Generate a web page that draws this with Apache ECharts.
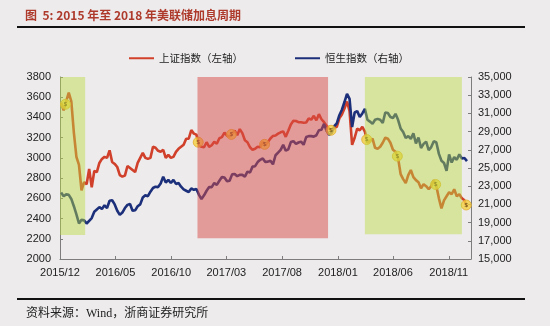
<!DOCTYPE html>
<html>
<head>
<meta charset="utf-8">
<script src="https://cdn.jsdelivr.net/npm/echarts@6/dist/echarts.min.js"></script>
<style>
  html, body { margin: 0; padding: 0; background: #EDEBEC; }
  #chart { width: 550px; height: 326px; }
</style>
</head>
<body>
<div id="chart"></div>
<script>
// Weekly closes (Fridays), first week ending 2015-12-04
const firstWeek = [2015, 12, 4];

// 上证指数, left axis
const sseValues = [
  3545, 3470, 3560, 3645, 3560, 3250, 3010, 2930, 2680, 2760,
  2740, 2890, 2710, 2870, 2860, 2950, 2990, 3010, 3000, 3075,
  2960, 2940, 2910, 2830, 2815, 2825, 2920, 2900, 2880, 2860,
  2950, 3000, 3050, 3000, 2990, 3000, 3110, 3100, 3070, 3060,
  3080, 3000, 3030, 3000, 3010, 3060, 3090, 3110, 3130, 3190,
  3190, 3275, 3240, 3230, 3125, 3110, 3105, 3155, 3110, 3125,
  3160, 3140, 3195, 3205, 3250, 3220, 3212, 3240, 3270, 3225,
  3285, 3245, 3175, 3155, 3105, 3080, 3090, 3110, 3105, 3158,
  3125, 3157, 3192, 3217, 3222, 3240, 3253, 3262, 3208, 3268,
  3331, 3367, 3365, 3353, 3352, 3348, 3350, 3390, 3378, 3416,
  3371, 3432, 3382, 3353, 3317, 3289, 3266, 3297, 3307, 3391,
  3429, 3488, 3558, 3462, 3129, 3199, 3289, 3273, 3307, 3260,
  3150, 3169, 3190, 3100, 3090, 3110, 3150, 3200, 3190, 3150,
  3080, 3060, 3000, 2840, 2790, 2750, 2830, 2880, 2810, 2780,
  2760, 2700, 2740, 2720, 2690, 2720, 2780, 2720, 2600, 2500,
  2580, 2620, 2660, 2640, 2690, 2620, 2640, 2600, 2580, 2516
];

// 恒生指数, right axis
const hsiValues = [
  22300, 21900, 22100, 22050, 21600, 20800, 19900, 18900, 19300, 19250,
  18900, 19200, 19500, 20200, 20450, 20700, 20500, 20900, 20600, 21400,
  21450, 21000, 20300, 19850, 20100, 20600, 20950, 21050, 20300, 20350,
  20800, 21000, 21750, 22000, 21900, 22400, 22800, 22950, 22900, 23300,
  24050, 23400, 23700, 23350, 23700, 23250, 23350, 22950, 22650, 22500,
  22350, 22750, 22600, 22700, 22050, 21600, 22000, 22500, 22900, 22900,
  23350, 23150, 23600, 24000, 23950, 23550, 23600, 24300, 24350, 24100,
  24250, 24250, 24050, 24600, 24500, 25150, 25200, 25650, 25900, 26050,
  25650, 25700, 25800, 25400, 26400, 26700, 27000, 27550, 26900, 27050,
  27850, 27950, 27650, 27800, 27900, 27550, 28400, 28500, 28500, 28450,
  28600, 29150, 29200, 29850, 29100, 28650, 28850, 29600, 29900, 30800,
  31400, 32250, 33150, 32600, 29500, 31100, 31250, 30600, 31000, 31500,
  30300, 30100, 29850, 30300, 30400, 30300, 29950, 31100, 31050, 30600,
  30500, 30950, 30300, 29350, 28950, 28300, 28500, 28200, 28800, 27700,
  28350, 27200, 27650, 27900, 26950, 27300, 27950, 27800, 26550, 25800,
  25550, 24700, 26500, 25600, 26200, 25900, 26500, 26050, 26100, 25750
];

// Fed rate hike dates and the 上证指数 level on each
const hikeDates = ['2015-12-16', '2016-12-14', '2017-03-15', '2017-06-14', '2017-12-13',
                   '2018-03-21', '2018-06-13', '2018-09-26', '2018-12-19'];
const hikeSse = [3530, 3155, 3232, 3134, 3273, 3181, 3017, 2737, 2534];

// Shaded periods (left-axis units for the vertical extent)
const bandStart = ['2015-12-01', '2016-12-12', '2018-03-16'];
const bandEnd   = ['2016-02-08', '2017-12-05', '2018-12-07'];
const bandLow   = [2237, 2204, 2244];
const bandHigh  = [3815, 3822, 3822];
const bandKind  = ['green', 'red', 'green'];

// x-axis labelled months
const tickMonths = ['2015-12', '2016-05', '2016-10', '2017-03', '2017-08', '2018-01', '2018-06', '2018-11'];

const axisRange = ['2015-12-01', '2019-01-01'];

function day(s) {
  const p = s.split('-').map(Number);
  return new Date(p[0], p[1] - 1, p[2] || 1).getTime();
}

const weeks = sseValues.map((_, i) => new Date(firstWeek[0], firstWeek[1] - 1, firstWeek[2] + 7 * i).getTime());
const tickTimes = tickMonths.map(day);

// translucent washes laid over the lines, so the lines take on the tint
const bandFill = { green: 'rgba(186,219,63,0.45)', red: 'rgba(217,75,70,0.5)' };

const LABEL_FONT = '"Liberation Sans", Arial, sans-serif';
const CJK_FONT = '"Noto Sans CJK SC", "Liberation Sans", sans-serif';

const chart = echarts.init(document.getElementById('chart'), null, { renderer: 'canvas' });

chart.setOption({
  backgroundColor: '#EDEBEC',
  animation: false,
  textStyle: { fontFamily: LABEL_FONT },
  graphic: [
    { type: 'text', left: 25, top: 9,
      style: { text: '图  5: 2015 年至 2018 年美联储加息周期', fontSize: 12, fontWeight: 'bold',
               fontFamily: CJK_FONT, fill: '#AE3A2C' } },
    { type: 'line', shape: { x1: 17, y1: 27, x2: 525, y2: 27 }, style: { stroke: '#111', lineWidth: 2 } },
    { type: 'line', shape: { x1: 17, y1: 299, x2: 525, y2: 299 }, style: { stroke: '#111', lineWidth: 2 } },
    { type: 'text', left: 26, top: 308,
      style: { text: '资料来源：Wind，浙商证券研究所', fontSize: 12,
               fontFamily: '"Liberation Serif", "Noto Sans CJK SC", serif', fill: '#222' } }
  ],
  legend: {
    left: 124, top: 48,
    icon: 'rect', itemWidth: 25, itemHeight: 2, itemGap: 52,
    textStyle: { fontSize: 10.5, color: '#222', fontFamily: CJK_FONT },
    data: ['上证指数（左轴）', '恒生指数（右轴）']
  },
  grid: { left: 60, right: 79, top: 77, bottom: 67 },
  xAxis: {
    // linear axis over millisecond timestamps
    type: 'value',
    min: day(axisRange[0]), max: day(axisRange[1]),
    axisLine: { lineStyle: { color: '#7d7d7d', width: 1 } },
    axisTick: { show: true, inside: true, length: 3, customValues: tickTimes, lineStyle: { color: '#7d7d7d' } },
    axisLabel: {
      customValues: tickTimes, color: '#222', fontSize: 11, margin: 8, fontFamily: LABEL_FONT,
      formatter: v => { const d = new Date(v); return d.getFullYear() + '/' + String(d.getMonth() + 1).padStart(2, '0'); }
    },
    splitLine: { show: false }
  },
  yAxis: [
    { type: 'value', min: 2000, max: 3800, interval: 200,
      axisLine: { show: true, lineStyle: { color: '#7d7d7d' } },
      axisTick: { show: true, inside: true, length: 3, lineStyle: { color: '#7d7d7d' } },
      axisLabel: { color: '#222', fontSize: 11, margin: 9, fontFamily: LABEL_FONT,
                   formatter: v => String(v) },
      splitLine: { show: false } },
    { type: 'value', min: 15000, max: 35000, interval: 2000, position: 'right',
      axisLine: { show: true, lineStyle: { color: '#7d7d7d' } },
      axisTick: { show: true, inside: true, length: 3, lineStyle: { color: '#7d7d7d' } },
      axisLabel: { color: '#222', fontSize: 11, margin: 7, fontFamily: LABEL_FONT,
                   formatter: v => v.toLocaleString('en-US') },
      splitLine: { show: false } }
  ],
  series: [
    { name: '上证指数（左轴）', type: 'line', yAxisIndex: 0, z: 2,
      data: weeks.map((t, i) => [t, sseValues[i]]),
      showSymbol: false, smooth: false,
      lineStyle: { color: '#D0402A', width: 2.6 }, itemStyle: { color: '#D0402A' } },
    { name: '恒生指数（右轴）', type: 'line', yAxisIndex: 1, z: 2,
      data: weeks.map((t, i) => [t, hsiValues[i]]),
      showSymbol: false, smooth: false,
      lineStyle: { color: '#1C2F7A', width: 2.6 }, itemStyle: { color: '#1C2F7A' } },
    { name: '加息', type: 'scatter', yAxisIndex: 0, z: 3,
      data: hikeDates.map((d, i) => [day(d), hikeSse[i]]),
      symbolSize: 10,
      itemStyle: { color: '#F4D03F', borderColor: '#E2AE30', borderWidth: 1 },
      label: { show: true, position: 'inside', formatter: '$', fontSize: 6, color: '#3a2a10' } },
    { name: 'bands', type: 'line', yAxisIndex: 0, z: 10, data: [], silent: true,
      markArea: {
        silent: true,
        z: 10,
        data: bandStart.map((s, i) => [
          { xAxis: day(s), yAxis: bandLow[i], itemStyle: { color: bandFill[bandKind[i]] } },
          { xAxis: day(bandEnd[i]), yAxis: bandHigh[i] }
        ])
      } }
  ]
});
</script>
</body>
</html>
